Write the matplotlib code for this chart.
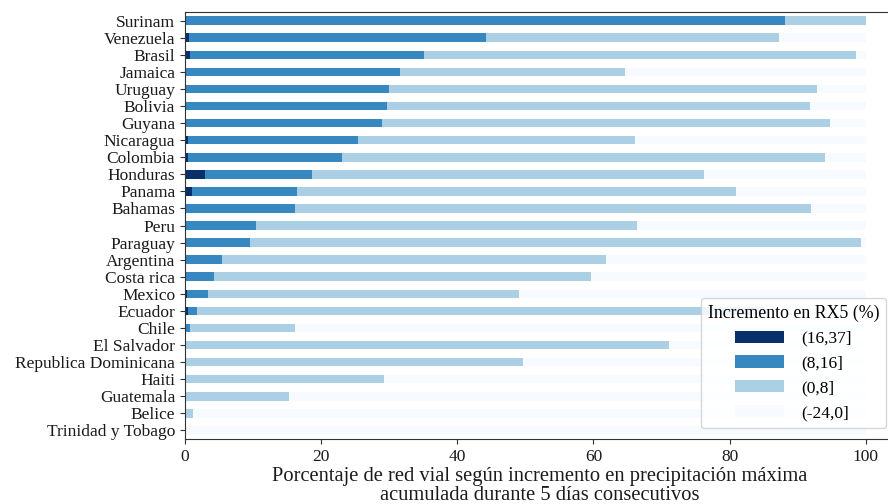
import numpy as np
import pandas as pd
import matplotlib
matplotlib.use("Agg")
import matplotlib.pyplot as plt

plt.rcParams['font.family'] = ['Liberation Serif', 'DejaVu Serif']

# datos (porcentaje de red vial)
paises = ['Surinam', 'Venezuela', 'Brasil', 'Jamaica', 'Uruguay', 'Bolivia', 'Guyana',
          'Nicaragua', 'Colombia', 'Honduras', 'Panama', 'Bahamas', 'Peru', 'Paraguay',
          'Argentina', 'Costa rica', 'Mexico', 'Ecuador', 'Chile', 'El Salvador',
          'Republica Dominicana', 'Haiti', 'Guatemala', 'Belice', 'Trinidad y Tobago']

clase_16_37 = [0.0, 0.6, 0.8, 0.0, 0.0, 0.0, 0.0, 0.5, 0.5, 2.9, 1.0, 0.0, 0.0, 0.0,
               0.0, 0.0, 0.3, 0.5, 0.0, 0.0, 0.0, 0.0, 0.0, 0.0, 0.0]
clase_8_16 = [88.1, 43.6, 34.3, 31.6, 29.9, 29.7, 29.0, 24.9, 22.6, 15.7, 15.4, 16.1,
              10.5, 9.6, 5.5, 4.2, 3.1, 1.2, 0.7, 0.0, 0.0, 0.0, 0.0, 0.0, 0.0]
clase_0_8 = [11.9, 43.1, 63.4, 33.0, 62.9, 62.1, 65.7, 40.7, 70.9, 57.7, 64.6, 75.8,
             55.9, 89.7, 56.4, 55.4, 45.7, 83.3, 15.5, 71.1, 49.7, 29.2, 15.3, 1.2, 0.0]

clases = ['(16,37]', '(8,16]', '(0,8]', '(-24,0]']

df = pd.DataFrame({'(16,37]': clase_16_37, '(8,16]': clase_8_16, '(0,8]': clase_0_8},
                  index=paises)
df['(-24,0]'] = 100 - df[['(16,37]', '(8,16]', '(0,8]']].sum(axis=1)
df = df[clases]

colores = plt.get_cmap('Blues')(np.linspace(1, 0, 4))

fig = plt.figure(figsize=(8.88, 5.04), dpi=100)
ax = fig.add_axes([0.2083, 0.129, 0.7996, 0.847])
df.plot.barh(stacked=True, ax=ax, color=colores, width=0.5)
ax.invert_yaxis()
ax.set_xlim(0, 104.3)
ax.set_xticks([0, 20, 40, 60, 80, 100])
ax.tick_params(axis='both', labelsize=12.5, labelcolor='#1a1a1a', color='#333333')
ax.set_xlabel('Porcentaje de red vial según incremento en precipitación máxima\n'
              'acumulada durante 5 días consecutivos', fontsize=14.8, color='#1a1a1a',
              linespacing=1.0, labelpad=2)
for s in ax.spines.values():
    s.set_color('#333333')

ax.legend(title='Incremento en RX5 (%)', fontsize=12.5, title_fontsize=12.8,
          loc='lower right', bbox_to_anchor=(1.0, 0.005), handlelength=2.8,
          handletextpad=1.0)

fig.savefig('out.png', dpi=100)
